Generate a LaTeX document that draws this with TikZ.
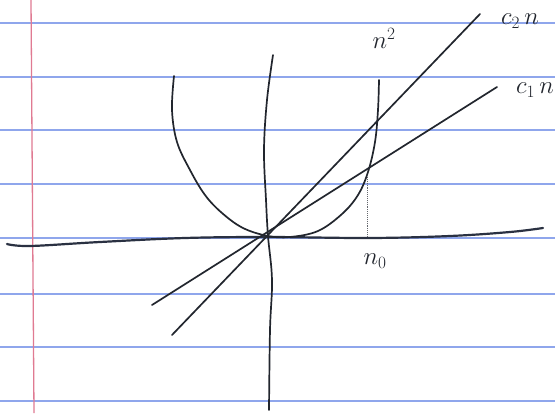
\documentclass[tikz,border=0pt]{standalone}
\usetikzlibrary{calc}
\definecolor{ruleblue}{HTML}{8FA6EC}
\definecolor{marginred}{HTML}{E07A92}
\definecolor{ink}{HTML}{22262E}
\definecolor{axisink}{HTML}{2A3142}
\begin{document}
\begin{tikzpicture}[x=1pt,y=-1pt,
  ruled/.style={ruleblue, line width=2pt},
  margin/.style={marginred, line width=1.3pt},
  pen/.style={ink, line width=1.7pt, line cap=round, line join=round},
  axispen/.style={axisink, line width=2.2pt, line cap=round, line join=round},
  guide/.style={ink!70, line width=0.9pt, densely dotted},
  lbl/.style={ink, font=\fontsize{25}{30}\selectfont, inner sep=0pt}]
\fill[white] (0,0) rectangle (555,413);
\useasboundingbox (0,0) rectangle (555,413);
% ruled paper
\foreach \y in {23,77,130,184,238,294,347,401} \draw[ruled] (0,\y) -- (555,\y);
\draw[margin] (31,0) -- (34,413);
% named points
\coordinate (O) at (268,236);
\coordinate (c2lo) at (172,335);
\coordinate (c2hi) at (480,14);
\coordinate (c1lo) at (152,305);
\coordinate (c1hi) at (497,87);
\coordinate (n0top) at (367,177);
\coordinate (n0bot) at (367,236);
% axes
\draw[axispen] plot[smooth, tension=0.6] coordinates {(7,244) (30,246) (100,242) (185,238) (268,237) (370,238) (450,236) (510,232) (543,228)};
\draw[pen] plot[smooth, tension=0.6] coordinates {(273,55) (267,100) (264,150) (266,200) (268,236) (272,280) (270,330) (269,410)};
% parabola n^2
\draw[pen] plot[smooth, tension=0.6] coordinates {(174,76) (172,110) (177,142) (190,170) (205,195) (222,213) (243,228) (268,236) (290,237) (318,231) (342,214) (358,195) (368,172) (375,142) (378,110) (379,80)};
% lines c2 n and c1 n
\draw[pen] (c2lo) -- (c2hi);
\draw[pen] (c1lo) -- (c1hi);
% n0 guide
\draw[guide] (n0top) -- (n0bot);
% labels
\node[lbl] (c2n) at (520,21) {$c_2\,n$};
\node[lbl] (n2) at (384,38) {$n^2$};
\node[lbl] (c1n) at (535,90) {$c_1\,n$};
\node[lbl] (n0) at (375,261) {$n_0$};
\end{tikzpicture}
\end{document}
